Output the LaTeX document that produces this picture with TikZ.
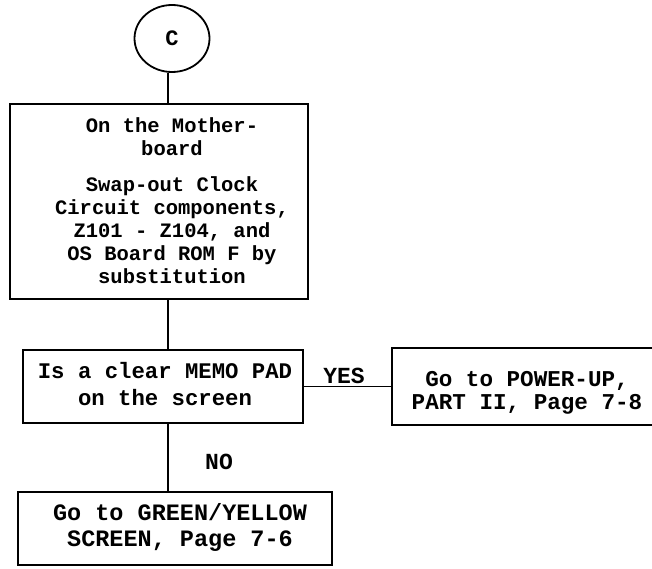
\documentclass[tikz,border=0pt]{standalone}
\usepackage{fontspec}
\setmonofont{Liberation Mono}
\usetikzlibrary{shapes.geometric}
\begin{document}
\begin{tikzpicture}[x=1pt,y=-1pt,
  box/.style={draw,line width=2pt,rectangle,inner sep=0pt},
  conn/.style={line width=1.8pt},
  txtA/.style={font=\ttfamily\bfseries\fontsize{20.5}{23}\selectfont,align=center,inner sep=0pt},
  txtB/.style={font=\ttfamily\bfseries\fontsize{23}{26}\selectfont,align=center,inner sep=0pt},
]
\useasboundingbox (0,0) rectangle (652,569);
\clip (0,0) rectangle (652,569);
% start connector
\node[draw,ellipse,line width=1.8pt,minimum width=75,minimum height=67,inner sep=0pt,
      font=\ttfamily\bfseries\fontsize{22}{24}\selectfont] (c) at (172,38.5) {C};
% boxes
\node[box,minimum width=298,minimum height=195] (b1) at (159,201.5) {};
\node[txtA] (b1t) at (172,201) {On the Mother-\\board\\[13pt]Swap-out Clock\\Circuit components,\\Z101 - Z104, and\\OS Board ROM F by\\substitution};
\node[box,minimum width=280,minimum height=73] (dec) at (163,386.5) {};
\node[txtB,font=\ttfamily\bfseries\fontsize{22.3}{27}\selectfont] (dect) at (165,384.5) {Is a clear MEMO PAD\\on the screen};
\node[box,minimum width=280,minimum height=77] (pw) at (532,386.5) {};
\node[txtB,font=\ttfamily\bfseries\fontsize{22.6}{23}\selectfont] (pwt) at (527,393) {Go to POWER-UP,\\PART II, Page 7-8};
\node[box,minimum width=314,minimum height=73] (fin) at (175,528.5) {};
\node[txtB,font=\ttfamily\bfseries\fontsize{23.5}{26}\selectfont] (fint) at (180,527) {Go to GREEN/YELLOW\\SCREEN, Page 7-6};
% connectors
\coordinate (sp) at (168,0);
\draw[conn] (sp |- c.south) -- (sp |- b1.north);
\draw[conn] (sp |- b1.south) -- (sp |- dec.north);
\draw[conn] (sp |- dec.south) -- (sp |- fin.north);
\draw[conn] (dec.east) -- (pw.west);
% labels
\node[txtB] (yes) at (344,376) {YES};
\node[txtB] (no) at (219,462) {NO};
\end{tikzpicture}
\end{document}
